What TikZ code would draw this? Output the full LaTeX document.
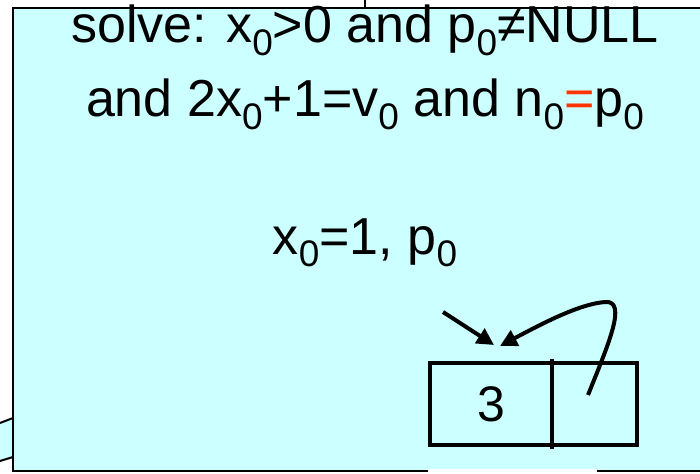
\documentclass[tikz,border=0pt]{standalone}
\usepackage{fontspec}
\setmainfont{Liberation Sans}
\usetikzlibrary{arrows.meta}
\definecolor{cyanbg}{HTML}{CCFFFF}
\definecolor{eqred}{HTML}{FF3300}
\newcommand{\zs}[1]{\raisebox{-0.24em}{\fontsize{37}{37}\selectfont #1}}
\tikzset{
  bigtext/.style={font=\fontsize{52}{52}\selectfont, anchor=base, inner sep=0pt},
  cell/.style={draw, line width=4pt, outer sep=0pt, minimum height=82pt, inner sep=0pt, font=\fontsize{50}{50}\selectfont},
  ptr/.style={line width=4pt, -{Triangle[length=17pt,width=17pt]}},
  edge/.style={line width=2pt}
}
\begin{document}
\begin{tikzpicture}[x=1pt,y=-1pt]
\useasboundingbox (0,0) rectangle (700,473);
\fill[white] (0,0) rectangle (700,473);
% shape behind at left
\fill[cyanbg] (0,423) -- (13,418) -- (13,457) -- (0,461) -- cycle;
\draw[edge] (0,423) -- (13,418);
\draw[edge] (0,461) -- (13,457);
% line above the box
\draw[edge] (365,0) -- (365,8);
% main box
\draw[edge, fill=cyanbg] (13,8) rectangle (703,471);
\fill[white] (428,469) rectangle (597,474);
% texts
\node[bigtext] (l1) at (365,43) {solve: x\zs{0}>0 and p\zs{0}≠NULL};
\node[bigtext] (l2) at (365,117) {and 2x\zs{0}+1=v\zs{0} and n\zs{0}{\color{eqred}=}p\zs{0}};
\node[bigtext] (l3) at (365,254) {x\zs{0}=1, p\zs{0}};
% list node
\node[cell, minimum width=122pt] (val) at (491,404) {3};
\node[cell, minimum width=85pt, anchor=west] (nxt) at (val.east) {};
\draw[line width=4pt] ([yshift=4pt]val.north east) -- ([yshift=-4pt]val.south east);
% pointers
\coordinate (p0) at (443,312);
\coordinate (tip1) at (494,345);
\coordinate (tip2) at (500,346);
\coordinate (from) at (588,395);
\draw[ptr] (p0) -- (tip1);
\draw[ptr] (from) .. controls (608,345) and (628,300) .. (605,302) .. controls (580,304) and (545,322) .. (tip2);
\end{tikzpicture}
\end{document}
